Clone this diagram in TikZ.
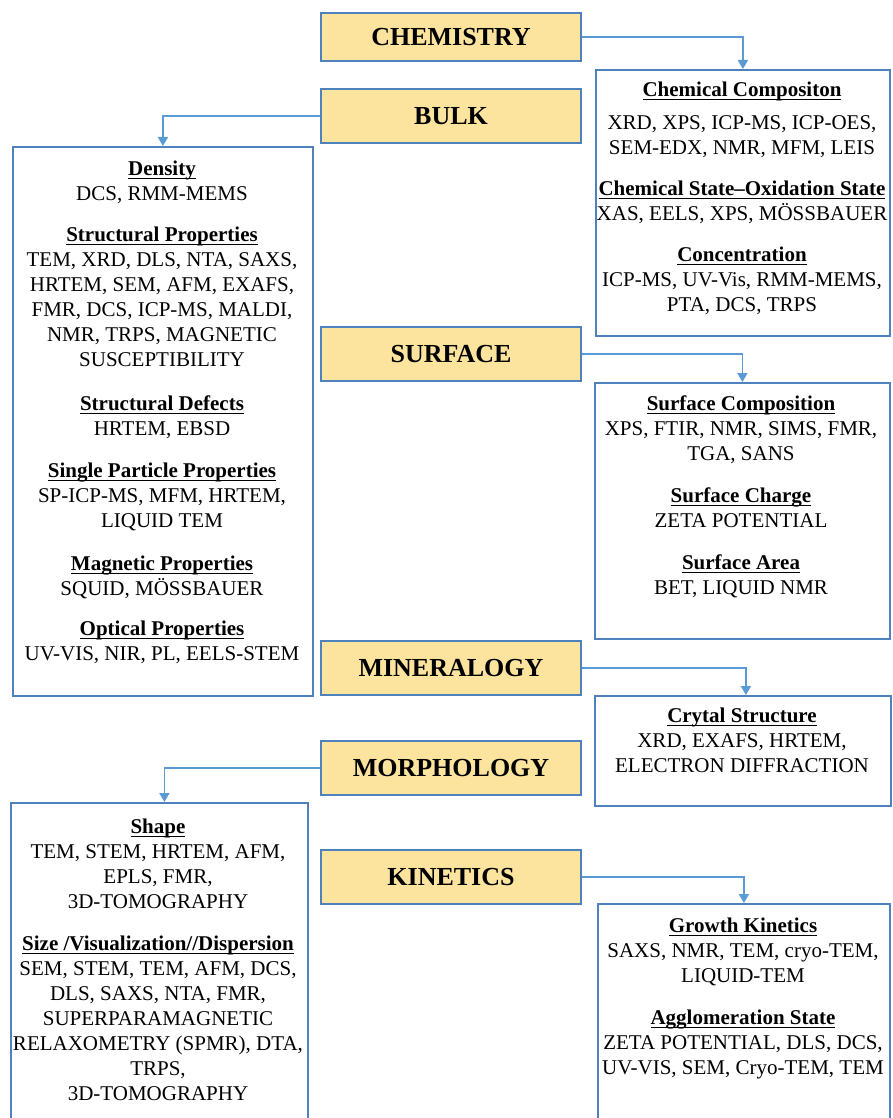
\documentclass[tikz,border=0pt]{standalone}
\usepackage{fontspec}
\setmainfont{Liberation Serif}
\usetikzlibrary{arrows.meta}
\definecolor{catfill}{RGB}{252,228,158}
\definecolor{boxblue}{RGB}{79,129,189}
\definecolor{arrblue}{RGB}{91,155,213}
\newcommand{\uhead}[1]{\setbox0\hbox{\bfseries #1}\rlap{\rule[-3pt]{\wd0}{1.1pt}}\box0}

\begin{document}
\begin{tikzpicture}[x=1pt,y=-1pt,
	catbox/.style={draw=boxblue,fill=catfill,line width=1.8pt,minimum width=260pt,minimum height=54pt,inner sep=0pt,font=\fontsize{26}{30}\selectfont\bfseries},
	infobox/.style={draw=boxblue,line width=1.8pt,anchor=north west,inner sep=0pt},
	grp/.style={anchor=north,align=center,inner sep=0pt,font=\fontsize{21}{25}\selectfont},
	arr/.style={draw=arrblue,line width=1.8pt,-{Triangle[width=10pt,length=9pt]}}]
		\useasboundingbox (0,0) rectangle (892,1118);
		\clip (0,0) rectangle (892,1118);
		% headings
		\node[catbox,minimum height=48pt] (chem) at (451,37) {CHEMISTRY};
		\node[catbox] (bulk) at (451,116) {BULK};
		\node[catbox] (surf) at (451,354) {SURFACE};
		\node[catbox] (miner) at (451,668) {MINERALOGY};
		\node[catbox] (morph) at (451,768) {MORPHOLOGY};
		\node[catbox] (kin) at (451,877) {KINETICS};
		% boxes
		\node[infobox,minimum width=300pt,minimum height=549pt] (bulkbox) at (12,146) {};
		\node[infobox,minimum width=294pt,minimum height=266pt] (chembox) at (595,69) {};
		\node[infobox,minimum width=295pt,minimum height=256pt] (surfbox) at (594,382) {};
		\node[infobox,minimum width=296pt,minimum height=110pt] (minbox) at (594,695) {};
		\node[infobox,minimum width=297pt,minimum height=340pt] (morphbox) at (10,802) {};
		\node[infobox,minimum width=292pt,minimum height=240pt] (kinbox) at (597,903) {};
		% arrows
		\draw[arr] (chem.east) -| (chembox.north);
		\draw[arr] (bulk.west) -| (bulkbox.north);
		\draw[arr] (surf.east) -| (surfbox.north);
		\draw[arr] (miner.east) -| ([xshift=3pt]minbox.north);
		\draw[arr] (morph.west) -| ([xshift=5pt]morphbox.north);
		\draw[arr] (kin.east) -| (kinbox.north);
		% bulk
		\node[grp] (dens) at (162,161) {\uhead{Density}\\DCS, RMM-MEMS};
		\node[grp] (struct) at (162,227) {\uhead{Structural Properties}\\TEM, XRD, DLS, NTA, SAXS,\\HRTEM, SEM, AFM, EXAFS,\\FMR, DCS, ICP-MS, MALDI,\\NMR, TRPS, MAGNETIC\\SUSCEPTIBILITY};
		\node[grp] (defect) at (162,396) {\uhead{Structural Defects}\\HRTEM, EBSD};
		\node[grp] (single) at (162,463) {\uhead{Single Particle Properties}\\SP-ICP-MS, MFM, HRTEM,\\LIQUID TEM};
		\node[grp] (magn) at (162,556) {\uhead{Magnetic Properties}\\SQUID, MÖSSBAUER};
		\node[grp] (optic) at (162,621) {\uhead{Optical Properties}\\UV-VIS, NIR, PL, EELS-STEM};
		% chemistry
		\node[grp] (comp) at (742,82) {\uhead{Chemical Compositon}\\[8pt]XRD, XPS, ICP-MS, ICP-OES,\\SEM-EDX, NMR, MFM, LEIS};
		\node[grp] (state) at (742,181) {\uhead{Chemical State--Oxidation State}\\XAS, EELS, XPS, MÖSSBAUER};
		\node[grp] (conc) at (742,247) {\uhead{Concentration}\\ICP-MS, UV-Vis, RMM-MEMS,\\PTA, DCS, TRPS};
		% surface
		\node[grp] (scomp) at (741,396) {\uhead{Surface Composition}\\XPS, FTIR, NMR, SIMS, FMR,\\TGA, SANS};
		\node[grp] (scharge) at (741,488) {\uhead{Surface Charge}\\ZETA POTENTIAL};
		\node[grp] (sarea) at (741,555) {\uhead{Surface Area}\\BET, LIQUID NMR};
		% mineralogy
		\node[grp] (cryst) at (742,708) {\uhead{Crytal Structure}\\XRD, EXAFS, HRTEM,\\ELECTRON DIFFRACTION};
		% morphology
		\node[grp] (shape) at (158,819) {\uhead{Shape}\\TEM, STEM, HRTEM, AFM,\\EPLS, FMR,\\3D-TOMOGRAPHY};
		\node[grp] (size) at (158,936) {\uhead{Size /Visualization//Dispersion}\\SEM, STEM, TEM, AFM, DCS,\\DLS, SAXS, NTA, FMR,\\SUPERPARAMAGNETIC\\RELAXOMETRY (SPMR), DTA,\\TRPS,\\3D-TOMOGRAPHY};
		% kinetics
		\node[grp] (growth) at (743,918) {\uhead{Growth Kinetics}\\SAXS, NMR, TEM, cryo-TEM,\\LIQUID-TEM};
		\node[grp] (aggl) at (743,1010) {\uhead{Agglomeration State}\\ZETA POTENTIAL, DLS, DCS,\\UV-VIS, SEM, Cryo-TEM, TEM};
	\end{tikzpicture}
\end{document}
